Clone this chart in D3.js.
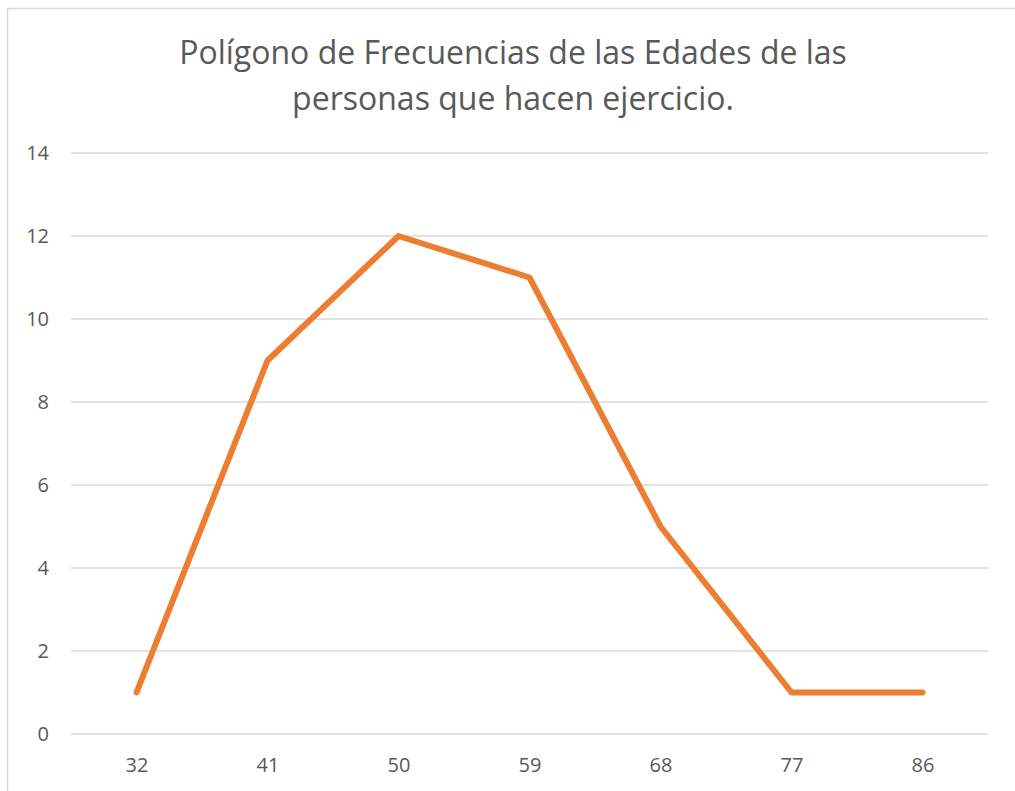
<!DOCTYPE html>
<html>
<head>
<meta charset="utf-8">
<script src="https://cdn.jsdelivr.net/npm/d3@7"></script>
<style>
  body { margin: 0; background: #fff; }
  svg { display: block; }
</style>
</head>
<body>
<svg id="chart" width="1015" height="791"></svg>
<script>
// data
const edades = ["32", "41", "50", "59", "68", "77", "86"];
const frecuencias = [1, 9, 12, 11, 5, 1, 1];
const yTicks = [0, 2, 4, 6, 8, 10, 12, 14];
const tituloLineas = ["Polígono de Frecuencias de las Edades de las", "personas que hacen ejercicio."];

const width = 1015, height = 791;
const margin = { top: 153, right: 27, bottom: 57, left: 71 };
const font = "'Open Sans', 'Noto Sans', sans-serif";
const textColor = "#595959";

const svg = d3.select("#chart");

// chart area border (Excel style, cut off on the right/bottom)
svg.append("rect")
    .attr("x", 7.5)
    .attr("y", 8.5)
    .attr("width", width + 10)
    .attr("height", height + 10)
    .attr("fill", "#fff")
    .attr("stroke", "#d9d9d9")
    .attr("stroke-width", 1.5);

const x = d3.scalePoint()
    .domain(edades)
    .range([margin.left, width - margin.right])
    .padding(0.5);

const y = d3.scaleLinear()
    .domain([0, 14])
    .range([height - margin.bottom, margin.top]);

// title
svg.append("text")
    .attr("x", 513)
    .attr("y", 64)
    .attr("text-anchor", "middle")
    .attr("fill", textColor)
    .style("font-family", font)
    .style("font-size", "32px")
    .selectAll("tspan")
    .data(tituloLineas)
    .join("tspan")
    .attr("x", 513)
    .attr("dy", (d, i) => i === 0 ? 0 : 46)
    .text(d => d);

// grid
svg.append("g")
    .selectAll("line")
    .data(yTicks)
    .join("line")
    .attr("x1", margin.left)
    .attr("x2", width - margin.right)
    .attr("y1", d => y(d))
    .attr("y2", d => y(d))
    .attr("stroke", "#d9d9d9")
    .attr("stroke-width", 1.5);

// y axis labels
const yAxis = svg.append("g")
    .attr("transform", `translate(${margin.left - 22},0)`)
    .call(d3.axisLeft(y).tickValues(yTicks).tickSize(0).tickPadding(0));
yAxis.select(".domain").remove();
yAxis.selectAll("text")
    .attr("fill", textColor)
    .style("font-family", font)
    .style("font-size", "20px");

// x axis labels
const xAxis = svg.append("g")
    .attr("transform", `translate(0,${height - margin.bottom})`)
    .call(d3.axisBottom(x).tickSize(0).tickPadding(24));
xAxis.select(".domain").remove();
xAxis.selectAll("text")
    .attr("fill", textColor)
    .style("font-family", font)
    .style("font-size", "20px");

// polygon line
const line = d3.line()
    .x((d, i) => x(edades[i]))
    .y(d => y(d));

svg.append("path")
    .datum(frecuencias)
    .attr("d", line)
    .attr("fill", "none")
    .attr("stroke", "#ed7d31")
    .attr("stroke-width", 6)
    .attr("stroke-linejoin", "round")
    .attr("stroke-linecap", "round");
</script>
</body>
</html>
